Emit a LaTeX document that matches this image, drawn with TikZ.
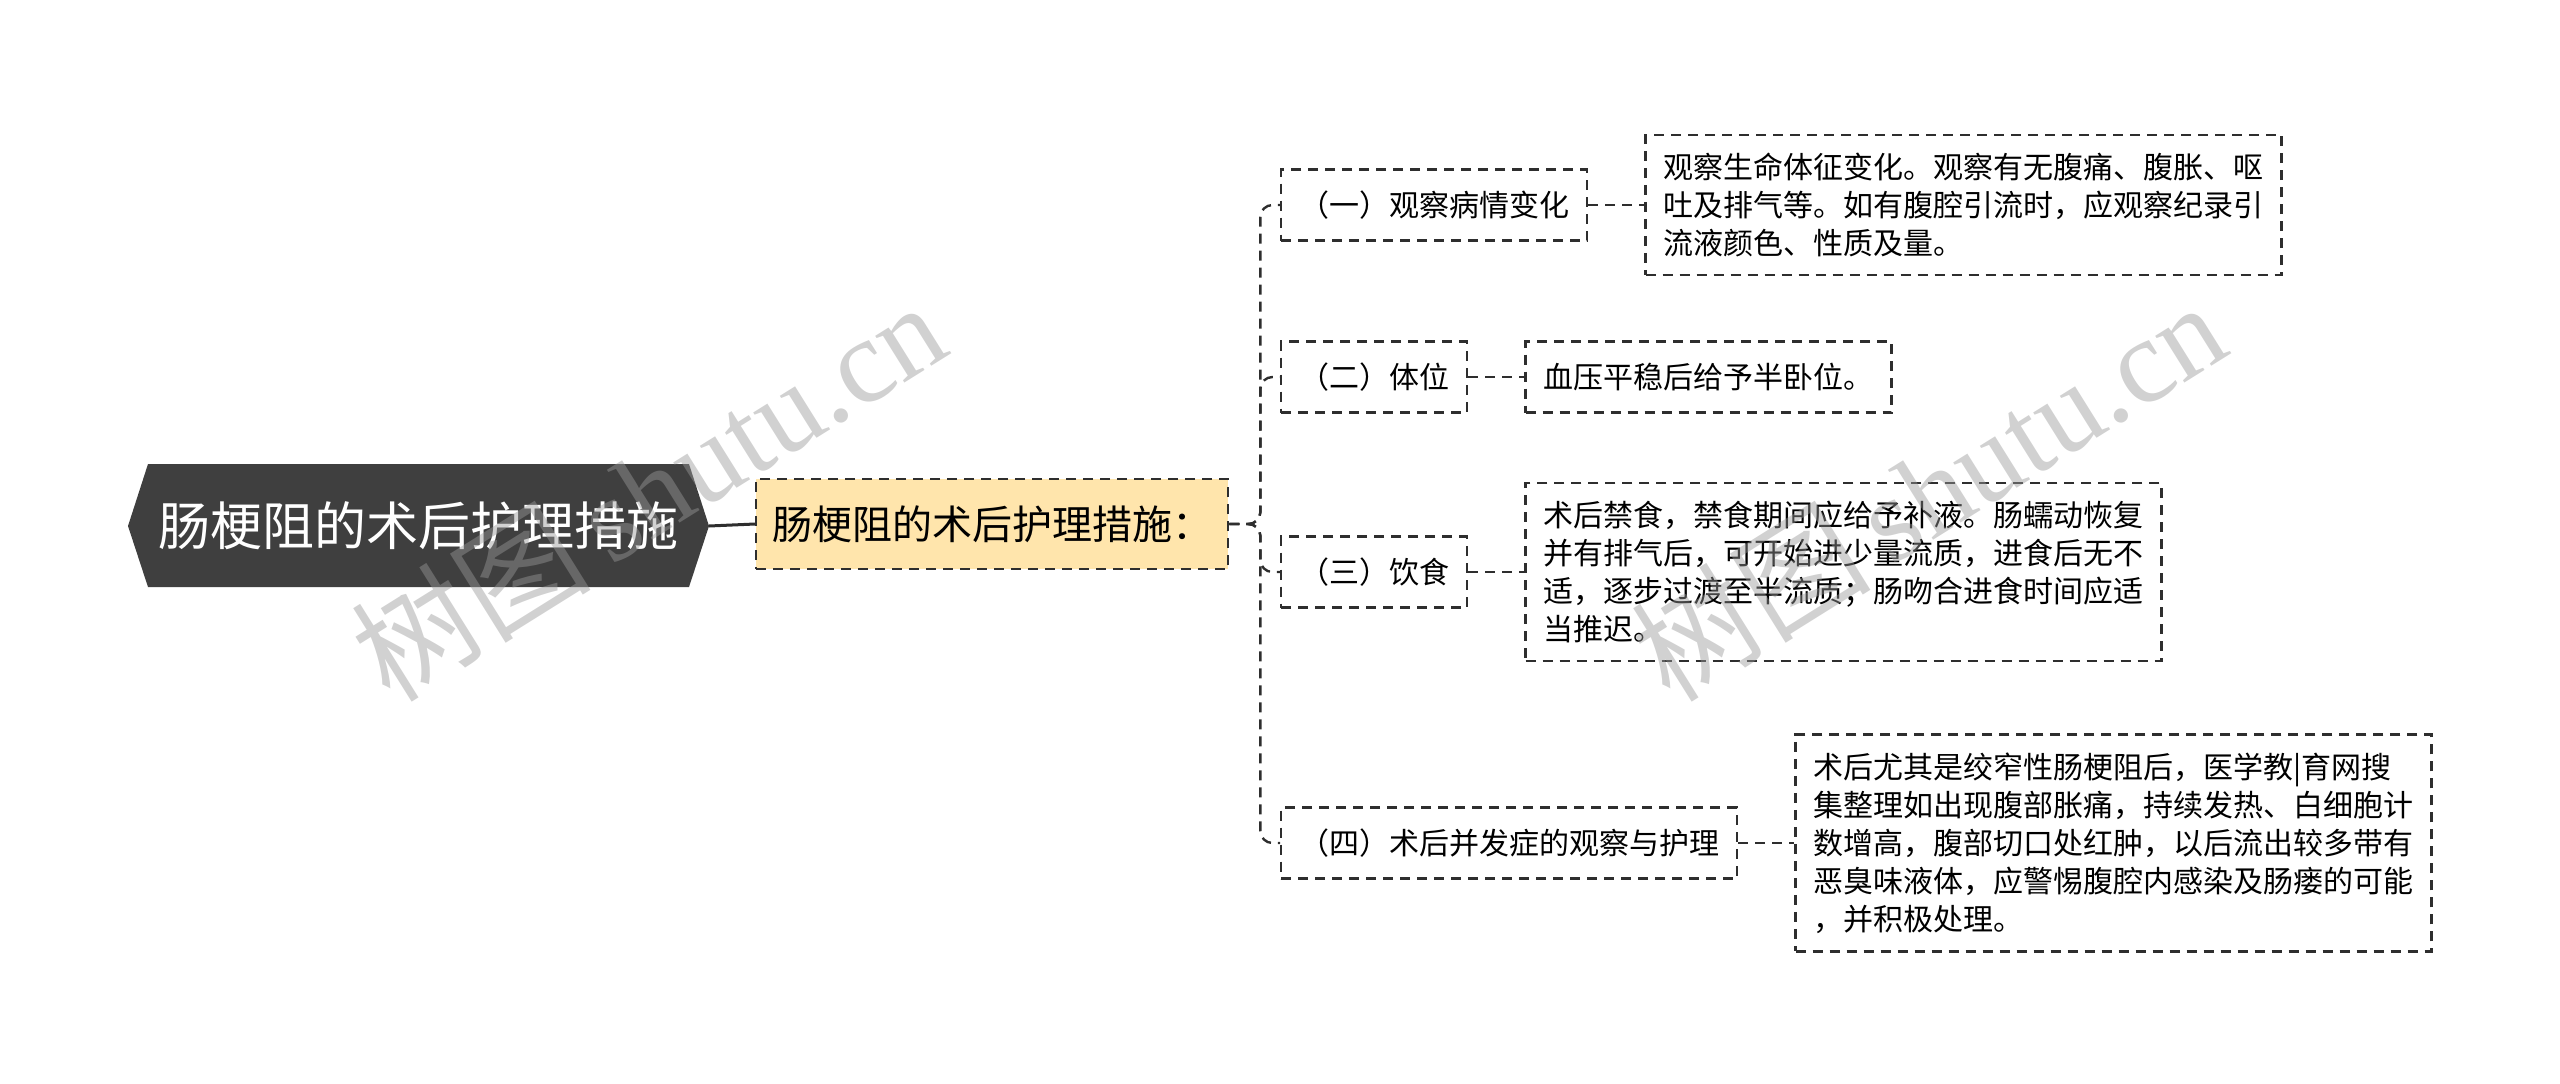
\documentclass[tikz,border=0pt]{standalone}
\usepackage{fontspec}
\newfontfamily\cjk{Noto Sans CJK SC}
\newfontfamily\wmserif{Liberation Serif}
\usetikzlibrary{calc,positioning}
\definecolor{rootgray}{HTML}{3F3F3F}
\definecolor{mainyellow}{HTML}{FFE5AC}
\definecolor{linegray}{HTML}{2E2E2E}
\tikzset{
	dashbox/.style={draw=linegray, line width=1.2pt, dash pattern=on 5pt off 3.5pt},
	subbox/.style={dashbox, anchor=west, inner xsep=9pt, inner ysep=10pt, minimum height=35.5pt, font=\cjk\fontsize{15}{19}\selectfont},
	leafbox/.style={subbox, align=left, inner ysep=9pt},
	link/.style={linegray, line width=1.2pt, dash pattern=on 5pt off 3.5pt, rounded corners=6pt},
	watermark/.style={rotate=32, text=black!40, opacity=0.45, inner sep=0pt}
}

\begin{document}
\begin{tikzpicture}[x=0.5pt, y=-0.5pt]
		%%%%% START %%%%%
		\useasboundingbox (0, 0) rectangle (2560, 1083);
		
		\fill[rootgray] (128, 526) -- (148, 464) -- (689, 464) -- (709, 526) -- (689, 587) -- (148, 587) -- cycle;
		\node[minimum width=290.5pt, minimum height=61.5pt, inner sep=0pt, text=white, font=\cjk\fontsize{26}{30}\selectfont] (root) at (418, 526) {肠梗阻的术后护理措施};
		
		\node[dashbox, fill=mainyellow, anchor=west, inner xsep=8pt, inner ysep=12pt, minimum height=45pt, font=\cjk\fontsize{20}{24}\selectfont] (main) at (755, 524) {肠梗阻的术后护理措施：};
		\draw[linegray, line width=1.5pt] (root.east) -- (main.west);
		
		\node[subbox] (c1) at (1280, 205) {（一）观察病情变化};
		\node[subbox] (c2) at (1280, 377) {（二）体位};
		\node[subbox] (c3) at (1280, 572) {（三）饮食};
		\node[subbox] (c4) at (1280, 843) {（四）术后并发症的观察与护理};
		
		\draw[link] (main.east) -- ++(31, 0) |- (c1.west);
		\draw[link] (main.east) -- ++(31, 0) |- (c2.west);
		\draw[link] (main.east) -- ++(31, 0) |- (c3.west);
		\draw[link] (main.east) -- ++(31, 0) |- (c4.west);
		
		\node[leafbox, right=28pt of c1] (l1) {观察生命体征变化。观察有无腹痛、腹胀、呕\\吐及排气等。如有腹腔引流时，应观察纪录引\\流液颜色、性质及量。};
		\node[leafbox, right=28pt of c2] (l2) {血压平稳后给予半卧位。};
		\node[leafbox, right=28pt of c3] (l3) {术后禁食，禁食期间应给予补液。肠蠕动恢复\\并有排气后，可开始进少量流质，进食后无不\\适，逐步过渡至半流质；肠吻合进食时间应适\\当推迟。};
		\node[leafbox, right=28pt of c4] (l4) {术后尤其是绞窄性肠梗阻后，医学教|育网搜\\集整理如出现腹部胀痛，持续发热、白细胞计\\数增高，腹部切口处红肿，以后流出较多带有\\恶臭味液体，应警惕腹腔内感染及肠瘘的可能\\，并积极处理。};
		
		\draw[link] (c1.east) -- (l1.west);
		\draw[link] (c2.east) -- (l2.west);
		\draw[link] (c3.east) -- (l3.west);
		\draw[link] (c4.east) -- (l4.west);
		
		% watermark
		\node[watermark] (wm1) at (648, 490) {\cjk\fontsize{60}{60}\selectfont 树图\,\wmserif shutu.cn};
		\node[watermark] (wm2) at (1928, 490) {\cjk\fontsize{60}{60}\selectfont 树图\,\wmserif shutu.cn};
		%%%%% END %%%%%
\end{tikzpicture}
\end{document}
